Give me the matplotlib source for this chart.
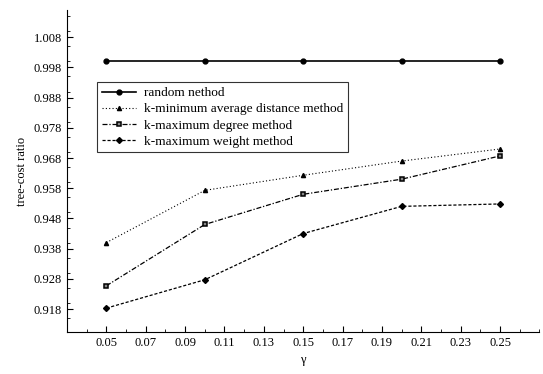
import matplotlib
matplotlib.use('Agg')
import matplotlib.pyplot as plt
from matplotlib.ticker import MultipleLocator

gamma = [0.05, 0.10, 0.15, 0.20, 0.25]
random_m = [1.000, 1.000, 1.000, 1.000, 1.000]
k_min_avg_dist = [0.940, 0.9573, 0.9623, 0.967, 0.971]
k_max_degree = [0.9257, 0.946, 0.956, 0.961, 0.9687]
k_max_weight = [0.9183, 0.9277, 0.943, 0.952, 0.9528]

xticks = [0.05, 0.07, 0.09, 0.11, 0.13, 0.15, 0.17, 0.19, 0.21, 0.23, 0.25]
yticks = [0.918, 0.928, 0.938, 0.948, 0.958, 0.968, 0.978, 0.988, 0.998, 1.008]

plt.rcParams['font.family'] = ['Liberation Serif', 'DejaVu Serif']

fig = plt.figure(figsize=(5.43, 3.74), dpi=100)
ax = fig.add_axes([0.1234, 0.1123, 0.87, 0.86])

ax.plot(gamma, random_m, color='black', lw=1.2, marker='o', ms=3.5,
        label='random nethod')
ax.plot(gamma, k_min_avg_dist, color='black', lw=0.8, ls=(0, (1, 2)),
        marker='^', ms=3, label='k-minimum average distance method')
ax.plot(gamma, k_max_degree, color='black', lw=0.9, ls=(0, (4, 1.5, 1, 1.5)),
        marker='s', ms=3.5, mfc='#888888', mew=1.1, label='k-maximum degree method')
ax.plot(gamma, k_max_weight, color='black', lw=0.9, ls=(0, (2.5, 1.5)),
        marker='D', ms=3, label='k-maximum weight method')

ax.set_xlim(0.03, 0.27)
ax.set_ylim(0.9104, 1.0169)
ax.set_xticks(xticks)
ax.set_xticklabels([f'{v:.2f}' for v in xticks])
ax.set_yticks(yticks)
ax.set_yticklabels([f'{v:.3f}' for v in yticks])
ax.xaxis.set_minor_locator(MultipleLocator(0.01))
ax.yaxis.set_minor_locator(MultipleLocator(0.005))
ax.tick_params(direction='in', labelsize=9, length=4)
ax.tick_params(which='minor', direction='in', length=2)
ax.spines['top'].set_visible(False)
ax.spines['right'].set_visible(False)

ax.set_xlabel('γ', fontsize=9)
ax.set_ylabel('tree-cost ratio', fontsize=9)

leg = ax.legend(loc='upper left', bbox_to_anchor=(0.0635, 0.776), fontsize=9.6,
                frameon=True, fancybox=False, edgecolor='black',
                borderpad=0.35, labelspacing=0.28, handlelength=2.6,
                handletextpad=0.6, borderaxespad=0)
leg.get_frame().set_linewidth(0.8)

fig.savefig('out.png', dpi=100)
